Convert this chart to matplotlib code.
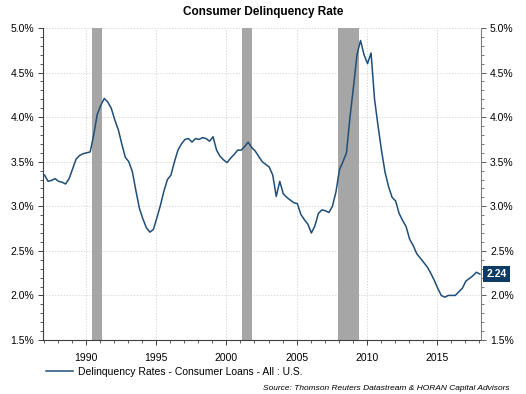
import matplotlib
matplotlib.use("Agg")
import matplotlib.pyplot as plt
import numpy as np
from matplotlib.ticker import MultipleLocator, FuncFormatter

plt.rcParams['font.family'] = ['Liberation Sans', 'DejaVu Sans']

title = "Consumer Delinquency Rate"
series_label = "Delinquency Rates - Consumer Loans - All : U.S."
source = "Source: Thomson Reuters Datastream & HORAN Capital Advisors"

start_year = 1987
rates = [
    3.35, 3.28, 3.29, 3.31,   # 1987
    3.28, 3.27, 3.25, 3.31,   # 1988
    3.42, 3.53, 3.57, 3.59,   # 1989
    3.60, 3.61, 3.80, 4.03,   # 1990
    4.13, 4.21, 4.17, 4.10,   # 1991
    3.97, 3.86, 3.70, 3.55,   # 1992
    3.50, 3.39, 3.18, 2.98,   # 1993
    2.86, 2.76, 2.71, 2.74,   # 1994
    2.87, 3.01, 3.17, 3.30,   # 1995
    3.35, 3.50, 3.63, 3.70,   # 1996
    3.75, 3.76, 3.72, 3.76,   # 1997
    3.75, 3.77, 3.76, 3.73,   # 1998
    3.78, 3.63, 3.56, 3.52,   # 1999
    3.49, 3.54, 3.58, 3.63,   # 2000
    3.63, 3.67, 3.72, 3.66,   # 2001
    3.62, 3.56, 3.50, 3.47,   # 2002
    3.44, 3.35, 3.11, 3.28,   # 2003
    3.14, 3.10, 3.07, 3.04,   # 2004
    3.03, 2.91, 2.85, 2.80,   # 2005
    2.70, 2.78, 2.92, 2.96,   # 2006
    2.95, 2.93, 3.00, 3.16,   # 2007
    3.41, 3.50, 3.60, 4.00,   # 2008
    4.34, 4.70, 4.86, 4.70,   # 2009
    4.60, 4.72, 4.20, 3.90,   # 2010
    3.62, 3.38, 3.22, 3.10,   # 2011
    3.06, 2.92, 2.84, 2.77,   # 2012
    2.63, 2.56, 2.47, 2.42,   # 2013
    2.37, 2.32, 2.25, 2.17,   # 2014
    2.08, 2.00, 1.98, 2.00,   # 2015
    2.00, 2.00, 2.04, 2.08,   # 2016
    2.16, 2.19, 2.22, 2.26,   # 2017
    2.24,                     # 2018
]
recession_starts = [1990.45, 2001.13, 2007.95]
recession_ends = [1991.16, 2001.84, 2009.42]

last_label = "2.24"

x = start_year + 0.05 + np.arange(len(rates)) * 0.25

fig = plt.figure(figsize=(5.26, 3.94), dpi=100)
ax = fig.add_axes([43/526, 1-340/394, (481-43)/526, (340-28)/394])

for s, e in zip(recession_starts, recession_ends):
    ax.axvspan(s, e, color='#A6A6A6', lw=0, zorder=1)

ax.plot(x, rates, color='#1F4E79', lw=1.1, zorder=3, label=series_label)

ax.set_xlim(1986.94, 2018.13)
ax.set_ylim(1.5, 5.0)

ax.xaxis.set_major_locator(MultipleLocator(5))
ax.xaxis.set_minor_locator(MultipleLocator(1))
ax.yaxis.set_major_locator(MultipleLocator(0.5))
ax.yaxis.set_minor_locator(MultipleLocator(0.1))
fmt = FuncFormatter(lambda v, p: f"{v:.1f}%")
ax.yaxis.set_major_formatter(fmt)

ax.grid(True, which='major', color='#CFCFCF', ls=(0, (1.5, 2)), lw=0.6, zorder=0)
ax.set_axisbelow(True)

for sp in ['top', 'right']:
    ax.spines[sp].set_visible(False)
ax.spines['left'].set_color('#404040')
ax.spines['bottom'].set_color('#404040')
ax.spines['left'].set_linewidth(0.8)
ax.spines['bottom'].set_linewidth(0.8)

ax.tick_params(axis='both', which='major', labelsize=7.5, length=3.5, width=0.7, color='#404040', pad=3)
ax.tick_params(axis='both', which='minor', length=2, width=0.6, color='#404040')
ax.tick_params(axis='x', which='major', pad=6)

ax2 = ax.twinx()
ax2.set_ylim(1.5, 5.0)
ax2.yaxis.set_major_locator(MultipleLocator(0.5))
ax2.yaxis.set_minor_locator(MultipleLocator(0.1))
ax2.yaxis.set_major_formatter(fmt)
for sp in ['top', 'left', 'bottom']:
    ax2.spines[sp].set_visible(False)
ax2.spines['right'].set_color('#808080')
ax2.spines['right'].set_linewidth(0.8)
ax2.tick_params(axis='y', which='major', labelsize=7.5, length=3.5, width=0.7, color='#606060', pad=3)
ax2.tick_params(axis='y', which='minor', length=2, width=0.6, color='#606060')

ax2.annotate(last_label, xy=(1.0, rates[-1]), xycoords=('axes fraction', 'data'),
             xytext=(4, 0), textcoords='offset points', ha='left', va='center',
             fontsize=7.5, fontweight='bold', color='white',
             bbox=dict(boxstyle='square,pad=0.3', fc='#0D3B66', ec='none'), zorder=10)

fig.text(263/526, 1-12/394, title, ha='center', va='center', fontsize=8.5, fontweight='bold')

leg = ax.legend(loc='center left', bbox_to_anchor=(46/526, 1-372/394), bbox_transform=fig.transFigure,
                frameon=False, fontsize=7.5, handlelength=2.6, handletextpad=0.5,
                borderpad=0, borderaxespad=0)
fig.text(510/526, 1-388/394, source, ha='right', va='center', fontsize=6, style='italic')

fig.savefig('out.png', dpi=100)
